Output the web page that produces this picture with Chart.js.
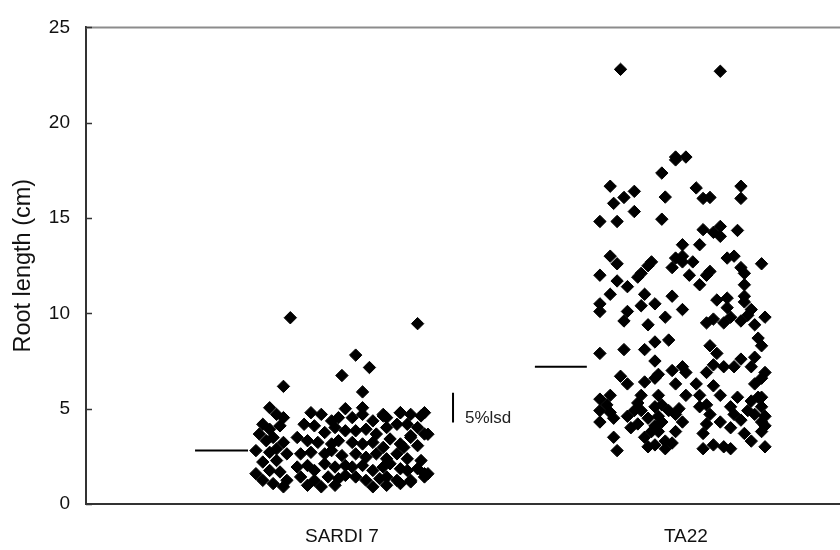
<!DOCTYPE html>
<html>
<head>
<meta charset="utf-8">
<script src="https://cdn.jsdelivr.net/npm/chart.js@4/dist/chart.umd.min.js"></script>
<style>
  body { margin: 0; background: #fff; }
  #chart { display: block; }
</style>
</head>
<body>
<canvas id="chart" width="840" height="550"></canvas>
<script>
// ------------------------------
// DATA
// ------------------------------

const cultivars = ["SARDI 7", "TA22"];
const yTicks = [0, 5, 10, 15, 20, 25];

// horizontal jitter (fraction of a category) and root length (cm)
const sardiOffset = [
  -0.15, -0.17, 0.00, 0.22, 0.04, 0.08, 0.06, 0.01, 0.06, 0.12, 0.17, 0.23, 0.25, 0.20, 0.25, 0.20,
  -0.21, -0.19, -0.17, -0.23, -0.21, -0.18, -0.24, -0.22, -0.20, -0.17, -0.25, -0.21, -0.19, -0.16,
  -0.23, -0.19, -0.25, -0.21, -0.18, -0.16, -0.23, -0.20, -0.17,
  -0.09, -0.06, -0.03, -0.01, -0.11, -0.08, -0.05, -0.02, 0.01, -0.13, -0.10, -0.07, -0.03, -0.01,
  -0.12, -0.09, -0.05, -0.03, 0.00, -0.13, -0.10, -0.08, -0.05, -0.02, 0.01, -0.12, -0.08, -0.04,
  -0.01, 0.01, -0.10, -0.06, -0.02,
  0.03, 0.06, 0.09, 0.12, 0.13, 0.04, 0.07, 0.10, 0.13, 0.16, 0.03, 0.06, 0.09, 0.12, 0.14, 0.17,
  0.04, 0.07, 0.10, 0.13, 0.16, 0.03, 0.06, 0.09, 0.12, 0.14, 0.17, 0.04, 0.07, 0.11, 0.13, 0.16,
  0.09, 0.13, 0.17,
  0.17, 0.20, 0.24, 0.19, 0.22, 0.20, 0.24, 0.18, 0.22, 0.19, 0.23, 0.19, 0.22, 0.24, 0.20, 0.24
];
const sardiLength = [
  9.77, 6.17, 6.74, 9.46, 7.81, 7.16, 5.88, 5.0, 5.05, 4.62, 4.79, 4.62, 3.66, 3.49, 1.59, 1.16,
  5.05, 4.7, 4.53, 4.18, 3.92, 4.1, 3.67, 3.32, 3.49, 3.23, 2.8, 2.71, 2.89, 2.63,
  2.2, 2.28, 1.59, 1.76, 1.68, 1.24, 1.24, 1.07, 0.9,
  4.79, 4.7, 4.36, 4.53, 4.18, 4.1, 3.75, 4.01, 3.84, 3.49, 3.32, 3.23, 3.15, 3.32,
  2.63, 2.71, 2.63, 2.8, 2.54, 1.94, 2.02, 1.76, 2.11, 1.94, 2.02, 1.42, 1.24, 1.42,
  1.33, 1.5, 0.98, 0.9, 0.98,
  4.53, 4.7, 4.36, 4.7, 4.53, 3.84, 3.92, 3.67, 4.01, 4.18, 3.23, 3.15, 3.23, 2.97, 3.41, 3.15,
  2.63, 2.45, 2.63, 2.37, 2.63, 1.94, 2.02, 1.76, 1.94, 2.11, 1.85, 1.42, 1.24, 1.33, 1.42, 1.24,
  0.9, 0.98, 1.07,
  4.79, 4.7, 4.79, 4.18, 4.01, 3.58, 3.67, 2.97, 3.06, 2.37, 2.28, 1.76, 1.85, 1.59, 1.24, 1.42
];

const ta22Offset = [
  -0.19, 0.10, -0.03, 0.00, -0.03, -0.07, -0.22, -0.15, -0.18, -0.21, -0.06, 0.03, 0.05, 0.07, 0.16,
  0.16, -0.15, -0.25, -0.20, -0.07, 0.05, 0.08, 0.10, 0.10, 0.15,
  -0.01, 0.04, -0.22, -0.20, -0.10, -0.11, -0.13, -0.14, -0.03, -0.01, -0.01, 0.02, -0.04, 0.12,
  0.14, 0.22, 0.16, 0.17, -0.25, -0.20, -0.17, 0.07, 0.06, 0.01, 0.04, 0.17,
  -0.22, -0.12, -0.04, -0.25, -0.25, -0.13, -0.09, -0.17, -0.18, -0.01, -0.06, -0.11, 0.09, 0.12,
  0.17, 0.17, 0.12, 0.19, 0.08, 0.06, 0.11, 0.13, 0.16, 0.18, 0.23, 0.20,
  -0.25, -0.18, -0.12, -0.09, -0.05, 0.07, 0.09, 0.21, 0.22, 0.20, -0.09, 0.16, 0.14, 0.08, 0.11,
  0.06, -0.01, 0.00, -0.04, 0.19, 0.23, 0.22, 0.20, -0.19, -0.17, -0.12, -0.09, -0.08, -0.03, 0.03,
  0.08,
  -0.13, -0.08, 0.00, 0.04, -0.14, -0.25, -0.22, -0.23, -0.25, -0.22, -0.25, -0.21, -0.17, -0.13,
  -0.11, -0.14, -0.09, -0.08, -0.07, -0.05, -0.02, -0.01, -0.03, 0.04, 0.06, 0.07, 0.06, 0.10, 0.13,
  0.15, 0.14, 0.16, 0.19, 0.21, 0.22, 0.22, 0.23, 0.22, 0.23, 0.18, 0.20, 0.10,
  -0.21, -0.20, -0.10, -0.12, -0.09, -0.11, -0.06, -0.06, -0.04, -0.08, 0.05, 0.05, 0.08, 0.11,
  0.13, 0.17, 0.19, 0.23, 0.22,
  -0.15, -0.07, -0.16, -0.09, -0.03, 0.13
];
const ta22Length = [
  22.8, 22.7, 18.2, 18.2, 18.05, 17.36, 16.67, 16.4, 16.08, 15.77, 16.1, 16.58, 16.03, 16.08, 16.67,
  16.03, 15.34, 14.82, 14.82, 14.94, 14.39, 14.25, 14.56, 14.04, 14.35,
  13.6, 13.6, 13.0, 12.6, 12.7, 12.5, 12.1, 11.9, 12.9, 13.0, 12.7, 12.7, 12.4, 12.9,
  13.0, 12.6, 12.4, 12.1, 12.0, 11.7, 11.4, 12.2, 12.0, 12.0, 11.5, 11.5,
  11.0, 11.0, 10.9, 10.5, 10.1, 10.4, 10.5, 10.1, 9.6, 10.2, 9.8, 9.4, 10.7, 10.8,
  10.9, 10.6, 10.3, 10.2, 9.7, 9.5, 9.5, 9.8, 9.6, 9.9, 9.8, 9.4,
  7.9, 8.1, 8.1, 8.5, 8.6, 8.3, 7.9, 8.7, 8.3, 7.7, 7.5, 7.6, 7.2, 7.3, 7.2,
  6.9, 7.2, 6.9, 7.0, 7.2, 6.9, 6.6, 6.3, 6.7, 6.3, 6.4, 6.6, 6.8, 6.3, 6.3,
  6.2,
  5.7, 5.7, 5.7, 5.7, 5.3, 5.5, 5.7, 5.2, 4.9, 4.8, 4.3, 4.5, 4.6, 4.9,
  4.5, 4.2, 5.1, 4.6, 4.3, 4.9, 5.0, 4.3, 4.7, 5.1, 5.2, 4.7, 4.2, 4.3, 5.1,
  5.6, 4.7, 4.4, 5.4, 5.6, 5.6, 5.1, 4.6, 4.3, 4.1, 4.9, 4.7, 5.7,
  3.5, 2.8, 3.8, 3.5, 3.1, 3.0, 3.3, 2.9, 3.2, 3.8, 3.7, 2.9, 3.1, 3.0,
  2.9, 3.7, 3.3, 3.0, 3.8,
  4.9, 5.2, 4.0, 4.1, 3.8, 4.0
];

// means (short horizontal bars left of each group) and the 5% LSD bar
const meanLength = [2.8, 7.2];
const meanBarFrom = [0.573, 1.561];
const meanBarTo = [0.727, 1.712];
const lsdX = 1.323;
const lsdLow = 4.27;
const lsdHigh = 5.83;
const lsdLabelY = 4.5;

// ------------------------------
// BUILD
// ------------------------------

function toPoints(centre, offsets, lengths) {
    return offsets.map((d, i) => ({ x: centre + d, y: lengths[i] }));
}

const scatterStyle = {
    pointStyle: "rectRot",
    pointRadius: 6.2,
    pointHoverRadius: 6.2,
    backgroundColor: "#000",
    borderColor: "#000",
    borderWidth: 1,
    showLine: false
};

const datasets = [
    Object.assign({ label: cultivars[0], data: toPoints(1, sardiOffset, sardiLength) }, scatterStyle),
    Object.assign({ label: cultivars[1], data: toPoints(2, ta22Offset, ta22Length) }, scatterStyle)
];

meanLength.forEach((m, i) => {
    datasets.push({
        label: "mean " + cultivars[i],
        data: [{ x: meanBarFrom[i], y: m }, { x: meanBarTo[i], y: m }],
        showLine: true,
        borderColor: "#000",
        borderWidth: 2,
        pointRadius: 0
    });
});

datasets.push({
    label: "5%lsd",
    data: [{ x: lsdX, y: lsdLow }, { x: lsdX, y: lsdHigh }],
    showLine: true,
    borderColor: "#000",
    borderWidth: 2,
    pointRadius: 0
});

// top frame line, inward y ticks and the lsd caption
const framePlugin = {
    id: "frame",
    afterDraw(chart) {
        const ctx = chart.ctx;
        const area = chart.chartArea;
        const xs = chart.scales.x;
        const ys = chart.scales.y;
        ctx.save();
        ctx.strokeStyle = "#8c8c8c";
        ctx.lineWidth = 2;
        ctx.beginPath();
        ctx.moveTo(area.left, area.top);
        ctx.lineTo(chart.width, area.top);
        ctx.stroke();

        ctx.strokeStyle = "#333";
        ctx.lineWidth = 1.5;
        yTicks.forEach(v => {
            const py = Math.round(ys.getPixelForValue(v)) + 0.5;
            ctx.beginPath();
            ctx.moveTo(area.left, py);
            ctx.lineTo(area.left + 6, py);
            ctx.stroke();
        });

        ctx.fillStyle = "#222";
        ctx.font = "17px 'Liberation Sans', Arial, sans-serif";
        ctx.textAlign = "left";
        ctx.textBaseline = "middle";
        ctx.fillText("5%lsd", xs.getPixelForValue(lsdX) + 12, ys.getPixelForValue(lsdLabelY));
        ctx.restore();
    }
};

new Chart(document.getElementById("chart").getContext("2d"), {
    type: "scatter",
    data: { datasets: datasets },
    options: {
        responsive: false,
        animation: false,
        layout: { autoPadding: false, padding: { top: 22, right: 0, bottom: 0, left: 0 } },
        plugins: {
            legend: { display: false },
            tooltip: { enabled: false }
        },
        scales: {
            x: {
                type: "linear",
                min: 0.256,
                max: 2.448,
                afterBuildTicks: scale => { scale.ticks = [{ value: 1 }, { value: 2 }]; },
                afterFit: scale => { scale.height = 46; },
                grid: { display: false, drawTicks: false },
                border: { display: true, color: "#333", width: 2 },
                ticks: {
                    padding: 21,
                    color: "#111",
                    font: { family: "'Liberation Sans', Arial, sans-serif", size: 19 },
                    callback: v => cultivars[v - 1]
                }
            },
            y: {
                min: 0,
                max: 25,
                afterBuildTicks: scale => { scale.ticks = yTicks.map(v => ({ value: v })); },
                afterFit: scale => { scale.width = 86; },
                grid: { display: false, drawTicks: false },
                border: { display: true, color: "#333", width: 2 },
                ticks: {
                    padding: 16,
                    color: "#111",
                    font: { family: "'Liberation Sans', Arial, sans-serif", size: 19 }
                },
                title: {
                    display: true,
                    text: "Root length (cm)",
                    color: "#111",
                    padding: { top: 9, bottom: 0 },
                    font: { family: "'Liberation Sans', Arial, sans-serif", size: 23.5 }
                }
            }
        }
    },
    plugins: [framePlugin]
});
</script>
</body>
</html>
